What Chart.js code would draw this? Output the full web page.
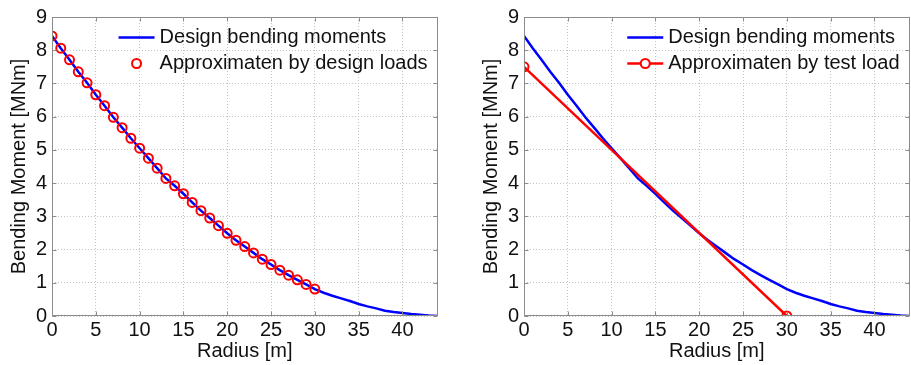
<!DOCTYPE html>
<html>
<head>
<meta charset="utf-8">
<script src="https://cdn.jsdelivr.net/npm/chart.js@4.4.1/dist/chart.umd.min.js"></script>
<style>
  html, body { margin: 0; padding: 0; background: #fff; overflow: hidden; width: 911px; height: 365px; }
  canvas { position: absolute; top: 0; }
  #leftChart { left: 0; }
  #rightChart { left: 472px; }
</style>
</head>
<body>
<canvas id="leftChart" width="444" height="365"></canvas>
<canvas id="rightChart" width="444" height="365"></canvas>
<script>
// blade radius [m] and design bending moment [MNm]
const radius = [0, 1, 2, 3, 4, 5, 6, 7, 8, 9, 10, 11, 12, 13, 14, 15, 16, 17, 18, 19, 20,
  21, 22, 23, 24, 25, 26, 27, 28, 29, 30, 31, 32, 33, 34, 35, 36, 37, 38, 39, 40, 41, 42, 43, 44];
const designMoment = [8.43, 8.06, 7.71, 7.35, 7.02, 6.66, 6.33, 5.98, 5.67, 5.35, 5.05,
  4.75, 4.45, 4.14, 3.92, 3.68, 3.42, 3.17, 2.95, 2.72, 2.49,
  2.28, 2.09, 1.90, 1.71, 1.55, 1.38, 1.23, 1.09, 0.95, 0.81,
  0.70, 0.61, 0.53, 0.45, 0.36, 0.29, 0.23, 0.16, 0.12, 0.09, 0.06, 0.04, 0.015, 0];

// approximation by design loads (circles)
const approxRadius = [0, 1, 2, 3, 4, 5, 6, 7, 8, 9, 10, 11, 12, 13, 14, 15, 16, 17, 18, 19, 20,
  21, 22, 23, 24, 25, 26, 27, 28, 29, 30];
const approxMoment = [8.43, 8.06, 7.71, 7.35, 7.02, 6.66, 6.33, 5.98, 5.67, 5.35, 5.05,
  4.75, 4.45, 4.14, 3.92, 3.68, 3.42, 3.17, 2.95, 2.72, 2.49,
  2.28, 2.09, 1.90, 1.71, 1.55, 1.38, 1.23, 1.09, 0.95, 0.81];

// approximation by test load (straight line)
const testRadius = [0, 30];
const testMoment = [7.5, 0];

const xMin = 0, xMax = 44, xStep = 5;
const yMin = 0, yMax = 9, yStep = 1;

const toXY = (xs, ys) => xs.map((x, i) => ({x: x, y: ys[i]}));

Chart.defaults.font.family = '"Liberation Sans", Arial, sans-serif';
Chart.defaults.font.size = 20;
Chart.defaults.color = '#111';

const axisGrey = '#8c8c8c';

// matlab style box with inward ticks
const framePlugin = {
  id: 'frame',
  afterDatasetsDraw(chart) {
    const {ctx, chartArea: a, scales} = chart;
    const l = Math.round(a.left) + 0.5, r = Math.round(a.right) - 0.5;
    const t = Math.round(a.top) + 0.5, b = Math.round(a.bottom) - 0.5;
    ctx.save();
    ctx.strokeStyle = axisGrey;
    ctx.lineWidth = 1;
    ctx.beginPath();
    scales.x.ticks.forEach(tk => {
      const px = Math.round(scales.x.getPixelForValue(tk.value)) + 0.5;
      ctx.moveTo(px, b); ctx.lineTo(px, b - 4);
      ctx.moveTo(px, t); ctx.lineTo(px, t + 4);
    });
    scales.y.ticks.forEach(tk => {
      const py = Math.round(scales.y.getPixelForValue(tk.value)) + 0.5;
      ctx.moveTo(l, py); ctx.lineTo(l + 4, py);
      ctx.moveTo(r, py); ctx.lineTo(r - 4, py);
    });
    ctx.stroke();
    ctx.strokeRect(l, t, r - l, b - t);
    ctx.restore();
  }
};

// legend in the top right corner of the plot, no box
const legendPlugin = {
  id: 'cornerLegend',
  afterDraw(chart) {
    const {ctx, chartArea: a} = chart;
    const sets = chart.data.datasets;
    ctx.save();
    ctx.font = '20px "Liberation Sans", Arial, sans-serif';
    ctx.textBaseline = 'middle';
    let w = 0;
    sets.forEach(ds => { w = Math.max(w, ctx.measureText(ds.label).width); });
    const textX = a.right - 10 - w;
    sets.forEach((ds, i) => {
      const y = a.top + 20.5 + i * 26;
      if (ds.showLine) {
        ctx.strokeStyle = ds.borderColor;
        ctx.lineWidth = ds.borderWidth;
        ctx.beginPath();
        ctx.moveTo(textX - 41, y);
        ctx.lineTo(textX - 5, y);
        ctx.stroke();
      }
      if (ds.pointRadius > 0) {
        ctx.strokeStyle = ds.pointBorderColor;
        ctx.lineWidth = ds.pointBorderWidth;
        ctx.fillStyle = '#fff';
        ctx.beginPath();
        ctx.arc(textX - 23, y, ds.pointRadius, 0, Math.PI * 2);
        if (ds.showLine) ctx.fill();
        ctx.stroke();
      }
      ctx.fillStyle = '#111';
      ctx.fillText(ds.label, textX, y);
    });
    ctx.restore();
  }
};

function makeOptions() {
  return {
    responsive: false,
    animation: false,
    devicePixelRatio: 1,
    layout: {padding: {top: 17, right: 0, bottom: 0, left: 0}},
    plugins: {legend: {display: false}, tooltip: {enabled: false}},
    scales: {
      x: {
        type: 'linear', min: xMin, max: xMax,
        afterFit: s => { s.height = 49; },
        ticks: {stepSize: xStep, includeBounds: false, padding: 2.5, maxRotation: 0},
        grid: {color: '#c4c4c4', lineWidth: 1, drawTicks: false},
        border: {display: false, dash: [1, 2]},
        title: {display: true, text: 'Radius [m]', padding: {top: 0, bottom: 1.5}}
      },
      y: {
        type: 'linear', min: yMin, max: yMax,
        afterFit: s => { s.width = 52; },
        ticks: {stepSize: yStep, padding: 5},
        grid: {color: '#c4c4c4', lineWidth: 1, drawTicks: false},
        border: {display: false, dash: [1, 2]},
        title: {display: true, text: 'Bending Moment [MNm]', padding: {top: 7.3, bottom: 0}}
      }
    }
  };
}

new Chart(document.getElementById('leftChart'), {
  type: 'scatter',
  data: {
    datasets: [
      {
        label: 'Design bending moments',
        data: toXY(radius, designMoment),
        showLine: true,
        borderColor: '#0000ff',
        borderWidth: 2.5,
        pointRadius: 0,
        order: 1
      },
      {
        label: 'Approximaten by design loads',
        data: toXY(approxRadius, approxMoment),
        showLine: false,
        borderColor: '#ff0000',
        pointRadius: 4.5,
        pointBorderWidth: 2,
        pointBorderColor: '#ff0000',
        pointBackgroundColor: 'rgba(0,0,0,0)',
        order: 0
      }
    ]
  },
  options: makeOptions(),
  plugins: [framePlugin, legendPlugin]
});

new Chart(document.getElementById('rightChart'), {
  type: 'scatter',
  data: {
    datasets: [
      {
        label: 'Design bending moments',
        data: toXY(radius, designMoment),
        showLine: true,
        borderColor: '#0000ff',
        borderWidth: 2.5,
        pointRadius: 0,
        order: 1
      },
      {
        label: 'Approximaten by test load',
        data: toXY(testRadius, testMoment),
        showLine: true,
        borderColor: '#ff0000',
        borderWidth: 2.5,
        pointRadius: 4.5,
        pointBorderWidth: 2,
        pointBorderColor: '#ff0000',
        pointBackgroundColor: 'rgba(0,0,0,0)',
        order: 0
      }
    ]
  },
  options: makeOptions(),
  plugins: [framePlugin, legendPlugin]
});
</script>
</body>
</html>
